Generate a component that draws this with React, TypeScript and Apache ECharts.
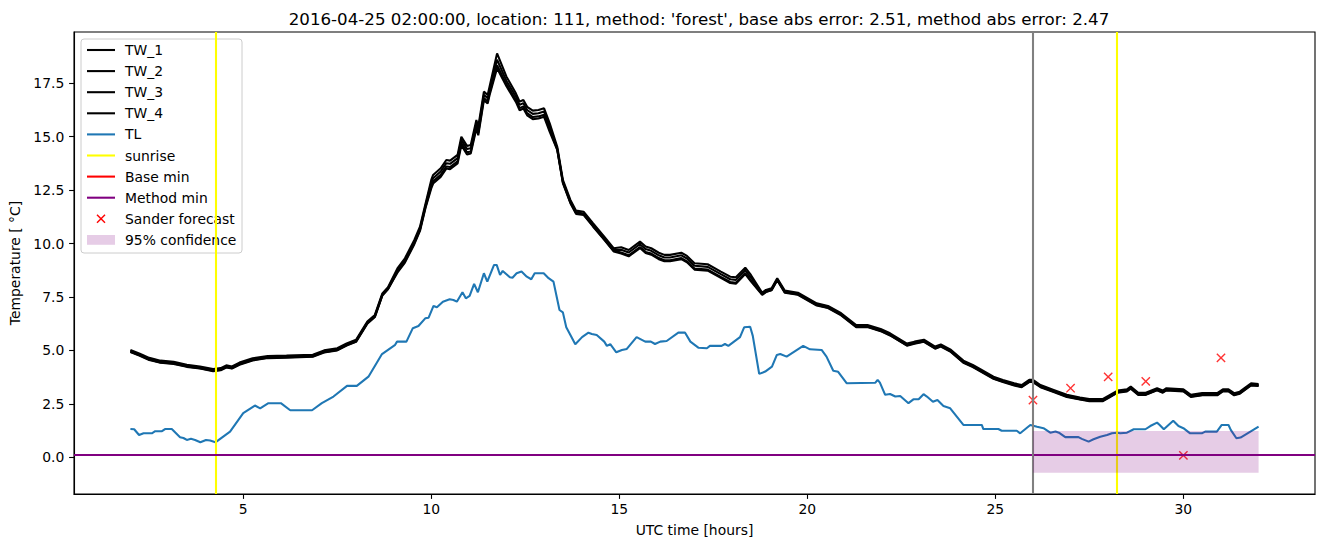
import React, { useEffect, useRef } from "react";
import * as echarts from "echarts";

const TITLE = "2016-04-25 02:00:00, location: 111, method: 'forest', base abs error: 2.51, method abs error: 2.47";
const X_LABEL = "UTC time [hours]";
const Y_LABEL = "Temperature [ °C]";

const X_TICKS = [5, 10, 15, 20, 25, 30];
const Y_TICKS = [0, 2.5, 5, 7.5, 10, 12.5, 15, 17.5];

const TW_T = [
  2.0, 2.25, 2.5, 2.8, 3.15, 3.5, 3.85, 4.2, 4.4, 4.55,
  4.7, 4.9, 5.25, 5.65, 6.15, 6.85, 7.15, 7.5, 7.75, 8.0,
  8.3, 8.5, 8.7, 8.85, 9.1, 9.3, 9.55, 9.7, 9.85, 10.0,
  10.05, 10.25, 10.4, 10.5, 10.7, 10.8, 10.95, 11.05, 11.2, 11.25,
  11.4, 11.5, 11.55, 11.75, 12.0, 12.25, 12.35, 12.45, 12.55, 12.7,
  12.85, 13.0, 13.15, 13.35, 13.5, 13.7, 13.85, 14.05, 14.3, 14.6,
  14.85, 15.05, 15.25, 15.55, 15.7, 15.85, 16.05, 16.2, 16.35, 16.65,
  16.8, 17.0, 17.35, 17.7, 17.95, 18.1, 18.35, 18.5, 18.8, 18.9,
  19.05, 19.2, 19.4, 19.75, 20.25, 20.55, 20.9, 21.3, 21.6, 21.95,
  22.2, 22.65, 22.85, 23.1, 23.4, 23.55, 23.8, 24.15, 24.4, 24.6,
  24.95, 25.2, 25.5, 25.7, 25.9, 26.0, 26.2, 26.55, 26.9, 27.25,
  27.5, 27.85, 28.05, 28.25, 28.5, 28.6, 28.8, 29.0, 29.3, 29.45,
  29.55, 30.0, 30.2, 30.5, 30.9, 31.05, 31.2, 31.35, 31.5, 31.8,
  32.0,
];

const TW_1 = [
  5.02, 4.85, 4.65, 4.52, 4.47, 4.33, 4.25, 4.13, 4.17, 4.30,
  4.25, 4.43, 4.63, 4.74, 4.76, 4.80, 5.00, 5.10, 5.33, 5.50,
  6.35, 6.66, 7.67, 7.96, 8.84, 9.31, 10.17, 10.79, 11.89, 12.98,
  13.21, 13.52, 13.91, 13.88, 14.15, 15.00, 14.57, 14.61, 15.78, 15.47,
  17.11, 16.95, 17.34, 18.90, 17.81, 17.03, 16.64, 16.72, 16.40, 16.22,
  16.25, 16.33, 15.63, 14.53, 12.98, 12.04, 11.54, 11.49, 10.95, 10.32,
  9.78, 9.83, 9.70, 10.09, 9.86, 9.78, 9.57, 9.47, 9.47, 9.57,
  9.42, 9.08, 9.03, 8.69, 8.45, 8.42, 8.87, 8.53, 7.70, 7.83,
  7.91, 8.38, 7.80, 7.70, 7.20, 7.08, 6.74, 6.19, 6.19, 6.00,
  5.80, 5.32, 5.41, 5.50, 5.18, 5.28, 5.05, 4.52, 4.32, 4.12,
  3.77, 3.62, 3.46, 3.38, 3.62, 3.62, 3.38, 3.15, 2.92, 2.80,
  2.72, 2.72, 2.92, 3.12, 3.18, 3.31, 3.02, 3.02, 3.23, 3.12,
  3.23, 3.18, 2.92, 3.00, 3.00, 3.18, 3.18, 3.00, 3.07, 3.46,
  3.43,
];

const TW_2 = [
  4.97, 4.80, 4.60, 4.47, 4.42, 4.28, 4.20, 4.08, 4.12, 4.25,
  4.20, 4.38, 4.58, 4.69, 4.71, 4.75, 4.95, 5.05, 5.28, 5.45,
  6.30, 6.61, 7.62, 7.91, 8.74, 9.21, 10.07, 10.69, 11.79, 12.83,
  13.06, 13.37, 13.76, 13.73, 14.00, 14.85, 14.42, 14.46, 15.63, 15.32,
  16.96, 16.80, 17.19, 18.60, 17.61, 16.88, 16.49, 16.57, 16.25, 16.07,
  16.10, 16.18, 15.48, 14.45, 12.90, 11.96, 11.46, 11.41, 10.87, 10.24,
  9.70, 9.71, 9.58, 9.97, 9.74, 9.66, 9.45, 9.35, 9.35, 9.45,
  9.30, 8.96, 8.91, 8.57, 8.33, 8.30, 8.75, 8.41, 7.65, 7.78,
  7.86, 8.33, 7.75, 7.65, 7.15, 7.03, 6.69, 6.14, 6.14, 5.95,
  5.75, 5.27, 5.36, 5.45, 5.13, 5.23, 5.00, 4.47, 4.27, 4.07,
  3.72, 3.57, 3.41, 3.33, 3.57, 3.57, 3.33, 3.10, 2.87, 2.75,
  2.67, 2.67, 2.87, 3.07, 3.13, 3.26, 2.97, 2.97, 3.18, 3.07,
  3.18, 3.13, 2.87, 2.95, 2.95, 3.13, 3.13, 2.95, 3.02, 3.41,
  3.38,
];

const TW_3 = [
  4.92, 4.75, 4.55, 4.42, 4.37, 4.23, 4.15, 4.03, 4.07, 4.20,
  4.15, 4.33, 4.53, 4.64, 4.66, 4.70, 4.90, 5.00, 5.23, 5.40,
  6.25, 6.56, 7.57, 7.86, 8.69, 9.16, 10.02, 10.64, 11.74, 12.68,
  12.91, 13.22, 13.61, 13.58, 13.85, 14.70, 14.27, 14.31, 15.48, 15.17,
  16.81, 16.65, 17.04, 18.35, 17.46, 16.73, 16.34, 16.42, 16.10, 15.92,
  15.95, 16.03, 15.33, 14.41, 12.86, 11.92, 11.42, 11.37, 10.83, 10.20,
  9.66, 9.58, 9.45, 9.84, 9.61, 9.53, 9.32, 9.22, 9.22, 9.32,
  9.17, 8.83, 8.78, 8.44, 8.20, 8.17, 8.62, 8.28, 7.62, 7.75,
  7.83, 8.30, 7.72, 7.62, 7.12, 7.00, 6.66, 6.11, 6.11, 5.92,
  5.72, 5.24, 5.33, 5.42, 5.10, 5.20, 4.97, 4.44, 4.24, 4.04,
  3.69, 3.54, 3.38, 3.30, 3.54, 3.54, 3.30, 3.07, 2.84, 2.72,
  2.64, 2.64, 2.84, 3.04, 3.10, 3.23, 2.94, 2.94, 3.15, 3.04,
  3.15, 3.10, 2.84, 2.92, 2.92, 3.10, 3.10, 2.92, 2.99, 3.38,
  3.35,
];

const TW_4 = [
  4.94, 4.77, 4.57, 4.44, 4.39, 4.25, 4.17, 4.05, 4.09, 4.22,
  4.17, 4.35, 4.55, 4.66, 4.68, 4.72, 4.92, 5.02, 5.25, 5.42,
  6.27, 6.58, 7.59, 7.88, 8.64, 9.11, 9.97, 10.59, 11.69, 12.58,
  12.81, 13.12, 13.51, 13.48, 13.75, 14.60, 14.17, 14.21, 15.38, 15.07,
  16.71, 16.55, 16.94, 18.20, 17.36, 16.63, 16.24, 16.32, 16.00, 15.82,
  15.85, 15.93, 15.23, 14.38, 12.83, 11.89, 11.39, 11.34, 10.80, 10.17,
  9.63, 9.53, 9.40, 9.79, 9.56, 9.48, 9.27, 9.17, 9.17, 9.27,
  9.12, 8.78, 8.73, 8.39, 8.15, 8.12, 8.57, 8.23, 7.60, 7.73,
  7.81, 8.28, 7.70, 7.60, 7.10, 6.98, 6.64, 6.09, 6.09, 5.90,
  5.70, 5.22, 5.31, 5.40, 5.08, 5.18, 4.95, 4.42, 4.22, 4.02,
  3.67, 3.52, 3.36, 3.28, 3.52, 3.52, 3.28, 3.05, 2.82, 2.70,
  2.62, 2.62, 2.82, 3.02, 3.08, 3.21, 2.92, 2.92, 3.13, 3.02,
  3.13, 3.08, 2.82, 2.90, 2.90, 3.08, 3.08, 2.90, 2.97, 3.36,
  3.33,
];

const TL_T = [
  2.0, 2.1, 2.23, 2.35, 2.57, 2.66, 2.84, 2.92, 3.1, 3.32,
  3.41, 3.5, 3.61, 3.72, 3.86, 4.01, 4.12, 4.26, 4.65, 5.0,
  5.31, 5.45, 5.67, 6.0, 6.25, 6.83, 7.09, 7.4, 7.76, 8.02,
  8.33, 8.69, 9.04, 9.09, 9.34, 9.51, 9.66, 9.84, 9.93, 10.06,
  10.15, 10.31, 10.49, 10.59, 10.68, 10.83, 10.92, 11.02, 11.14, 11.24,
  11.4, 11.49, 11.67, 11.74, 11.83, 11.9, 12.09, 12.16, 12.27, 12.4,
  12.54, 12.66, 12.75, 12.99, 13.12, 13.25, 13.41, 13.5, 13.59, 13.7,
  13.83, 14.01, 14.18, 14.27, 14.4, 14.6, 14.67, 14.76, 14.92, 15.07,
  15.2, 15.46, 15.69, 15.84, 15.95, 16.09, 16.26, 16.57, 16.75, 16.89,
  17.11, 17.33, 17.41, 17.72, 17.81, 17.9, 18.21, 18.32, 18.48, 18.55,
  18.72, 18.88, 19.06, 19.19, 19.28, 19.45, 19.89, 20.07, 20.38, 20.51,
  20.69, 20.82, 21.05, 21.81, 21.87, 21.93, 22.07, 22.2, 22.34, 22.47,
  22.69, 22.82, 22.96, 23.09, 23.18, 23.34, 23.46, 23.62, 23.8, 24.15,
  24.64, 24.68, 25.08, 25.17, 25.57, 25.66, 25.93, 26.11, 26.28, 26.46,
  26.6, 26.69, 26.86, 27.21, 27.3, 27.48, 27.61, 27.79, 27.97, 28.1,
  28.24, 28.32, 28.5, 28.68, 28.99, 29.12, 29.3, 29.37, 29.48, 29.73,
  29.87, 30.0, 30.18, 30.49, 30.58, 30.89, 31.02, 31.2, 31.26, 31.41,
  31.52, 32.0,
];

const TL_V = [
  1.32, 1.31, 1.04, 1.12, 1.12, 1.22, 1.22, 1.32, 1.32, 0.94,
  0.9, 0.81, 0.86, 0.81, 0.7, 0.81, 0.78, 0.7, 1.2, 2.06,
  2.42, 2.29, 2.53, 2.53, 2.2, 2.2, 2.53, 2.84, 3.34, 3.34,
  3.77, 4.83, 5.26, 5.41, 5.41, 6.04, 6.14, 6.5, 6.53, 7.08,
  7.02, 7.28, 7.39, 7.36, 7.28, 7.72, 7.44, 7.55, 8.11, 7.72,
  8.61, 8.22, 9.0, 9.0, 8.53, 8.72, 8.42, 8.4, 8.61, 8.69,
  8.45, 8.33, 8.61, 8.61, 8.38, 8.22, 6.89, 6.78, 6.08, 5.72,
  5.29, 5.62, 5.83, 5.77, 5.72, 5.41, 5.21, 5.29, 4.91, 5.02,
  5.07, 5.62, 5.41, 5.41, 5.3, 5.41, 5.44, 5.83, 5.83, 5.41,
  5.12, 5.1, 5.21, 5.21, 5.3, 5.21, 5.62, 6.08, 6.11, 5.68,
  3.9, 4.01, 4.24, 4.79, 4.83, 4.71, 5.21, 5.05, 5.02, 4.71,
  4.05, 4.0, 3.46, 3.49, 3.62, 3.49, 2.92, 2.96, 2.84, 2.87,
  2.53, 2.71, 2.71, 2.95, 2.84, 2.6, 2.68, 2.4, 2.29, 1.51,
  1.51, 1.32, 1.32, 1.24, 1.24, 1.12, 1.51, 1.43, 1.36, 1.15,
  1.2, 1.15, 0.94, 0.94, 0.86, 0.73, 0.84, 0.96, 1.04, 1.12,
  1.15, 1.12, 1.15, 1.31, 1.31, 1.46, 1.62, 1.51, 1.31, 1.71,
  1.46, 1.36, 1.12, 1.12, 1.2, 1.2, 1.51, 1.51, 1.28, 0.89,
  0.92, 1.43,
];

const SUNRISE = [4.28, 28.24];
const NOW_T = 26;
const METHOD_MIN = 0.11;
const FORECAST_T = [26, 27, 28, 29, 30, 31];
const FORECAST_V = [2.67, 3.23, 3.76, 3.55, 0.09, 4.65];
const CONF_T = [26, 32];
const CONF_LOW = -0.72;
const CONF_HIGH = 1.23;

const LEGEND_ITEMS = [
  { name: "TW_1", kind: "line", color: "#000000" },
  { name: "TW_2", kind: "line", color: "#000000" },
  { name: "TW_3", kind: "line", color: "#000000" },
  { name: "TW_4", kind: "line", color: "#000000" },
  { name: "TL", kind: "line", color: "#1f77b4" },
  { name: "sunrise", kind: "line", color: "#ffff00" },
  { name: "Base min", kind: "line", color: "#ff0000" },
  { name: "Method min", kind: "line", color: "#800080" },
  { name: "Sander forecast", kind: "x", color: "#ff0000" },
  { name: "95% confidence", kind: "patch", color: "rgba(128,0,128,0.2)" },
];

const FONT = "DejaVu Sans, Verdana, sans-serif";
const LW = 2.08;

const pairs = (t: number[], v: number[]) => t.map((x, i) => [x, v[i]]);

export default function App() {
  const ref = useRef<HTMLDivElement>(null);

  useEffect(() => {
    if (!ref.current) return;
    const chart = echarts.init(ref.current, undefined, { renderer: "svg" });

    const legendX = 81;
    const legendY = 39;
    const rowGap = 21.1;
    const legendChildren: any[] = [
      {
        type: "rect",
        shape: { x: 0, y: 0, width: 161, height: 214, r: 3 },
        style: { fill: "rgba(255,255,255,0.8)", stroke: "#cccccc", lineWidth: 1 },
      },
    ];
    LEGEND_ITEMS.forEach((it, i) => {
      const cy = 11 + rowGap * i;
      if (it.kind === "line") {
        legendChildren.push({
          type: "line",
          shape: { x1: 6, y1: cy, x2: 34, y2: cy },
          style: { stroke: it.color, lineWidth: LW },
        });
      } else if (it.kind === "x") {
        legendChildren.push({
          type: "line",
          shape: { x1: 16, y1: cy - 4, x2: 24, y2: cy + 4 },
          style: { stroke: it.color, lineWidth: 1.4 },
        });
        legendChildren.push({
          type: "line",
          shape: { x1: 16, y1: cy + 4, x2: 24, y2: cy - 4 },
          style: { stroke: it.color, lineWidth: 1.4 },
        });
      } else {
        legendChildren.push({
          type: "rect",
          shape: { x: 6, y: cy - 4.9, width: 28, height: 9.8 },
          style: { fill: it.color },
        });
      }
      legendChildren.push({
        type: "text",
        x: 44,
        y: cy,
        style: {
          text: it.name,
          fill: "#000",
          font: `13.9px ${FONT}`,
          textVerticalAlign: "middle",
          verticalAlign: "middle",
        },
      });
    });

    const twSeries = [TW_1, TW_2, TW_3, TW_4].map((vals, k) => ({
      name: `TW_${k + 1}`,
      type: "line",
      data: pairs(TW_T, vals),
      showSymbol: false,
      symbol: "none",
      lineStyle: { color: "#000000", width: LW },
      itemStyle: { color: "#000000" },
      silent: true,
    }));

    chart.setOption({
      animation: false,
      backgroundColor: "#ffffff",
      title: {
        text: TITLE,
        left: 694,
        top: 6,
        textAlign: "center",
        textStyle: { fontFamily: FONT, fontSize: 16.67, fontWeight: "normal", color: "#000" },
      },
      grid: {
        left: 74,
        top: 32,
        right: 9,
        bottom: 53,
        show: true,
        borderColor: "#000",
        borderWidth: 1.1,
        backgroundColor: "transparent",
      },
      xAxis: {
        type: "value",
        min: 0.5,
        max: 33.5,
        name: X_LABEL,
        nameLocation: "middle",
        nameGap: 29,
        nameTextStyle: { fontFamily: FONT, fontSize: 13.9, color: "#000" },
        axisLine: { show: true, onZero: false, lineStyle: { color: "#000", width: 1.1 } },
        axisTick: { show: true, length: 4.9, customValues: X_TICKS, lineStyle: { color: "#000", width: 1.1 } },
        axisLabel: {
          customValues: X_TICKS,
          margin: 8,
          fontFamily: FONT,
          fontSize: 13.9,
          color: "#000",
          formatter: (v: number) => String(v),
        },
        splitLine: { show: false },
      },
      yAxis: {
        type: "value",
        min: -1.72,
        max: 19.9,
        name: Y_LABEL,
        nameLocation: "middle",
        nameGap: 45,
        nameTextStyle: { fontFamily: FONT, fontSize: 13.9, color: "#000" },
        axisLine: { show: true, onZero: false, lineStyle: { color: "#000", width: 1.1 } },
        axisTick: { show: true, length: 4.9, customValues: Y_TICKS, lineStyle: { color: "#000", width: 1.1 } },
        axisLabel: {
          customValues: Y_TICKS,
          margin: 9.7,
          fontFamily: FONT,
          fontSize: 13.9,
          color: "#000",
          formatter: (v: number) => v.toFixed(1),
        },
        splitLine: { show: false },
      },
      series: [
        ...twSeries,
        {
          name: "TL",
          type: "line",
          data: pairs(TL_T, TL_V),
          showSymbol: false,
          symbol: "none",
          lineStyle: { color: "#1f77b4", width: LW },
          itemStyle: { color: "#1f77b4" },
          silent: true,
          markLine: {
            silent: true,
            symbol: ["none", "none"],
            label: { show: false },
            emphasis: { disabled: true },
            data: [
              ...SUNRISE.map((t) => ({ xAxis: t, lineStyle: { color: "#ffff00", width: LW, type: "solid" } })),
              { yAxis: METHOD_MIN, lineStyle: { color: "#800080", width: LW, type: "solid" } },
              { xAxis: NOW_T, lineStyle: { color: "#808080", width: LW, type: "solid" } },
            ],
          },
        },
        {
          name: "Sander forecast",
          type: "scatter",
          data: pairs(FORECAST_T, FORECAST_V),
          symbol: "path://M0,0L10,10M10,0L0,10",
          symbolSize: 8.3,
          itemStyle: { color: "rgba(0,0,0,0)", borderColor: "#ff0000", borderWidth: 1.4 },
          silent: true,
          z: 4,
        },
        {
          name: "95% confidence",
          type: "custom",
          data: [[CONF_T[0], CONF_T[1], CONF_LOW, CONF_HIGH]],
          silent: true,
          z: 5,
          renderItem: (params: any, api: any) => {
            const p1 = api.coord([api.value(0), api.value(3)]);
            const p2 = api.coord([api.value(1), api.value(2)]);
            return {
              type: "rect",
              shape: { x: p1[0], y: p1[1], width: p2[0] - p1[0], height: p2[1] - p1[1] },
              style: { fill: "rgba(128,0,128,0.2)" },
            };
          },
        },
      ],
      graphic: [
        {
          type: "group",
          x: legendX,
          y: legendY,
          z: 100,
          silent: true,
          children: legendChildren,
        },
      ],
    });

    return () => {
      chart.dispose();
    };
  }, []);

  return (
    <div
      ref={ref}
      style={{ position: "fixed", left: 0, top: 0, width: 1324, height: 547, background: "#fff" }}
    />
  );
}
